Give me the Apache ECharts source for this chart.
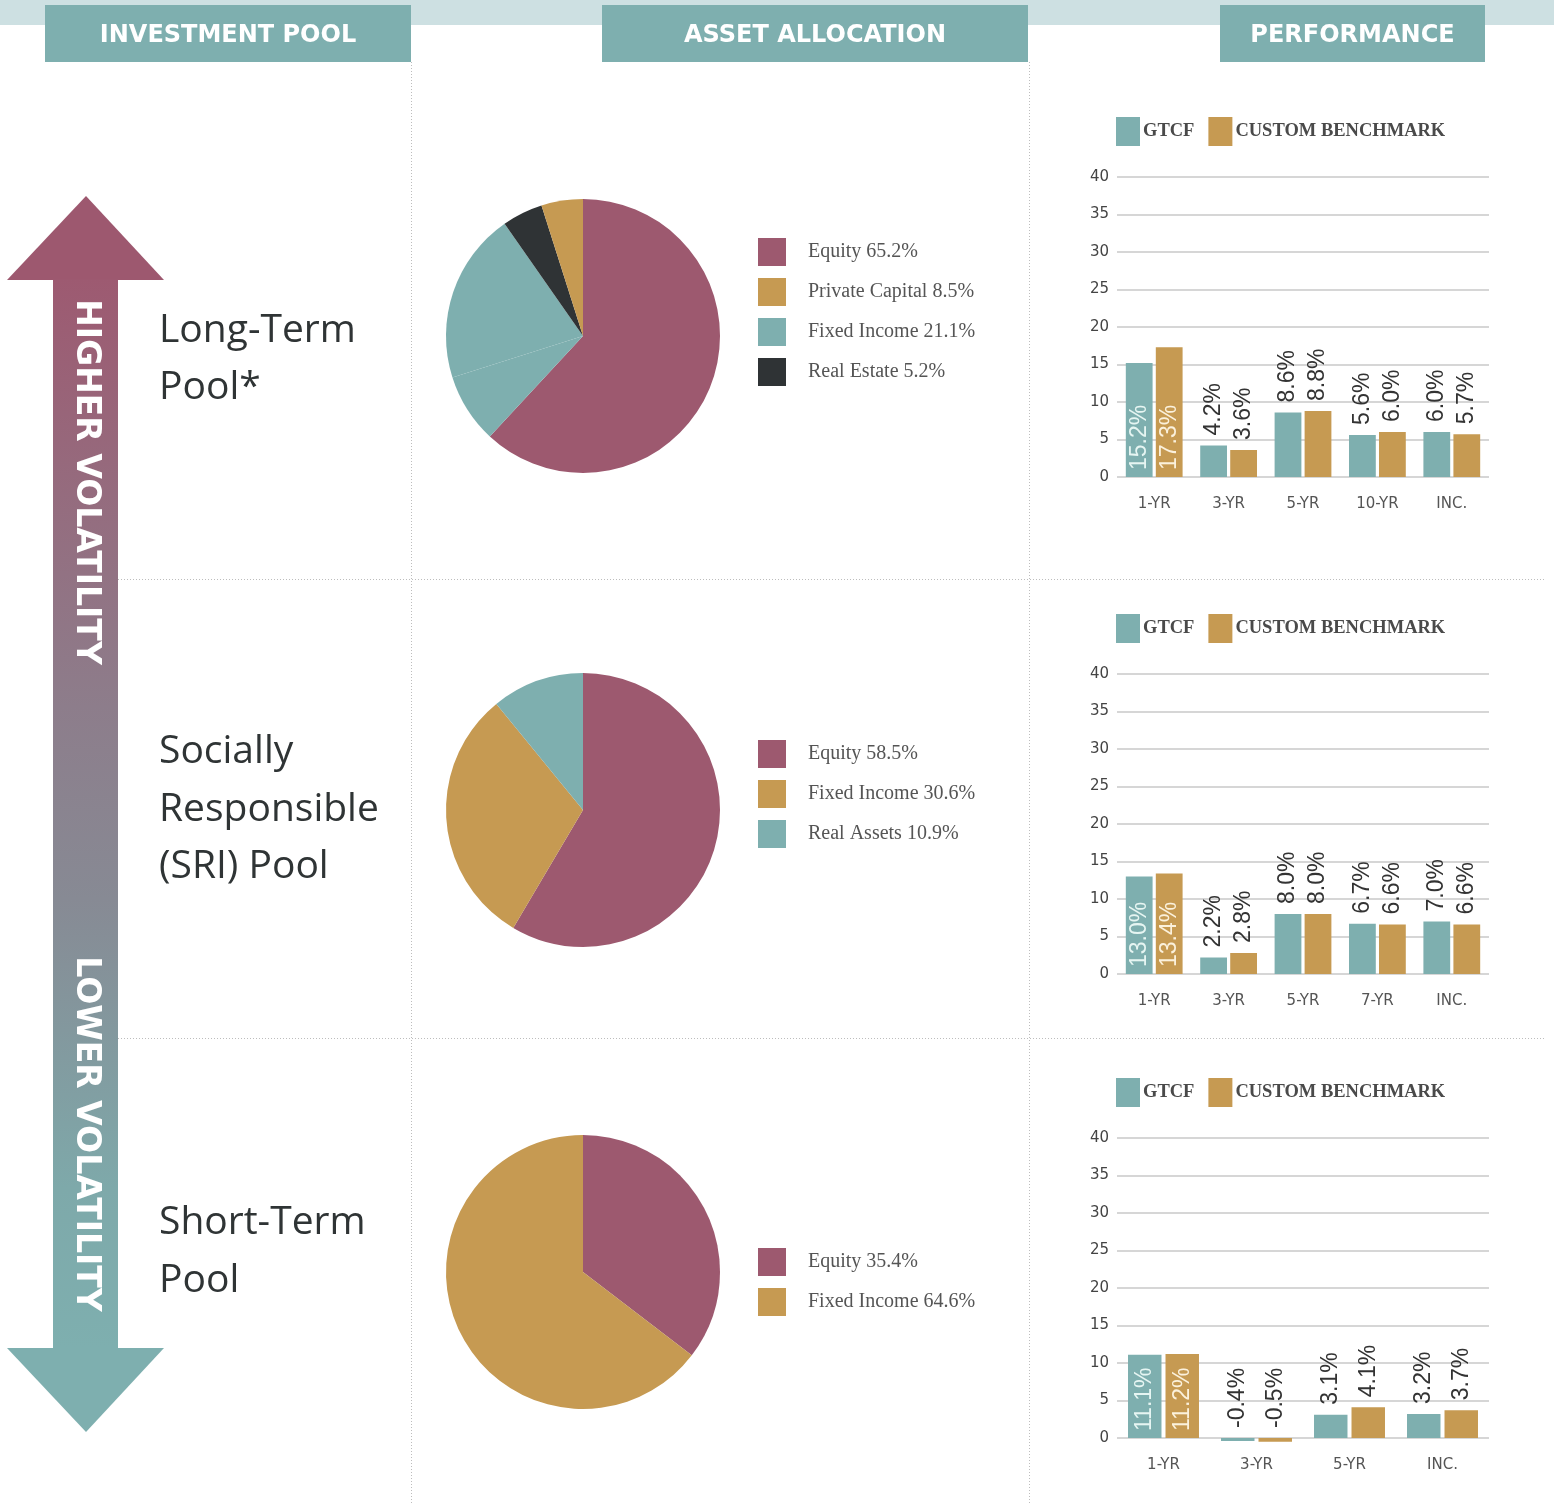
<!DOCTYPE html>
<html><head><meta charset="utf-8">
<script src="https://cdn.jsdelivr.net/npm/echarts@6/dist/echarts.min.js"></script>
<style>html,body{margin:0;padding:0;background:#fff}#c{width:1554px;height:1503px}</style>
</head><body><div id="c"></div>
<script>
// ---------- text ----------
const headers = ['INVESTMENT POOL', 'ASSET ALLOCATION', 'PERFORMANCE'];
const poolNames = [['Long-Term', 'Pool*'], ['Socially', 'Responsible', '(SRI) Pool'], ['Short-Term', 'Pool']];
const volLabels = ['HIGHER VOLATILITY', 'LOWER VOLATILITY'];
const barSeriesNames = ['GTCF', 'CUSTOM BENCHMARK'];

// ---------- pie data ----------
// Long-Term pool: legend as printed, slices as drawn
const pie1LegendNames = ['Equity', 'Private Capital', 'Fixed Income', 'Real Estate'];
const pie1LegendPct = [65.2, 8.5, 21.1, 5.2];
const pie1SliceNames = ['Equity', 'Fixed Income (a)', 'Fixed Income', 'Real Estate', 'Private Capital'];
const pie1SliceValues = [61.9, 8.2, 20.2, 4.8, 4.9];
// SRI pool
const pie2Names = ['Equity', 'Fixed Income', 'Real Assets'];
const pie2Values = [58.5, 30.6, 10.9];
// Short-Term pool
const pie3Names = ['Equity', 'Fixed Income'];
const pie3Values = [35.4, 64.6];

// ---------- bar data ----------
const bar1Cats = ['1-YR', '3-YR', '5-YR', '10-YR', 'INC.'];
const bar1Gtcf = [15.2, 4.2, 8.6, 5.6, 6.0];
const bar1Bench = [17.3, 3.6, 8.8, 6.0, 5.7];
const bar2Cats = ['1-YR', '3-YR', '5-YR', '7-YR', 'INC.'];
const bar2Gtcf = [13.0, 2.2, 8.0, 6.7, 7.0];
const bar2Bench = [13.4, 2.8, 8.0, 6.6, 6.6];
const bar3Cats = ['1-YR', '3-YR', '5-YR', 'INC.'];
const bar3Gtcf = [11.1, -0.4, 3.1, 3.2];
const bar3Bench = [11.2, -0.5, 4.1, 3.7];

// ---------- styles ----------
const MAUVE = '#9d596f', GOLD = '#c69a52', TEAL = '#7eafaf', DARK = '#2f3335';
const colorOf = { 'Equity': MAUVE, 'Private Capital': GOLD, 'Fixed Income': TEAL, 'Fixed Income (a)': TEAL, 'Real Estate': DARK, 'Real Assets': TEAL };
const pie1Colors = pie1SliceNames.map(n => colorOf[n]);
const pie1LegendColors = pie1LegendNames.map(n => colorOf[n]);
const pie2Colors = [MAUVE, GOLD, TEAL];
const pie3Colors = [MAUVE, GOLD];

const pieCenters = [[583, 336], [583, 810], [583, 1272]];
const pieLegendTops = [238, 740, 1248];
const barGridTops = [177, 674, 1138];
const barLegendTops = [117, 614, 1078];

const chart = echarts.init(document.getElementById('c'), null, { renderer: 'canvas' });

function pieSeries(names, values, colors, center) {
  return {
    type: 'pie', center: center, radius: 137, startAngle: 90, clockwise: true,
    silent: true, label: { show: false }, labelLine: { show: false },
    itemStyle: { borderWidth: 0 },
    emphasis: { disabled: true },
    data: names.map((n, i) => ({ name: n, value: values[i], itemStyle: { color: colors[i] } }))
  };
}
function pieLegend(names, pcts, colors, top) {
  const lookup = {};
  names.forEach((n, i) => lookup[n] = pcts[i].toFixed(1) + '%');
  return {
    orient: 'vertical', left: 758, top: top, padding: 0, itemWidth: 28, itemHeight: 28, itemGap: 12,
    icon: 'rect', selectedMode: false,
    data: names.map((n, i) => ({ name: n, itemStyle: { color: colors[i] } })),
    formatter: name => name + ' ' + lookup[name],
    textStyle: { fontFamily: 'Liberation Serif', fontSize: 20, color: '#555', padding: [3, 0, 0, 17] }
  };
}
const legends = [
  pieLegend(pie1LegendNames, pie1LegendPct, pie1LegendColors, pieLegendTops[0]),
  pieLegend(pie2Names, pie2Values, pie2Colors, pieLegendTops[1]),
  pieLegend(pie3Names, pie3Values, pie3Colors, pieLegendTops[2])
];
barLegendTops.forEach(t => legends.push({
  left: 1116, top: t, padding: 0, itemWidth: 24, itemHeight: 29, itemGap: 14, icon: 'rect', selectedMode: false,
  data: [{ name: barSeriesNames[0], itemStyle: { color: TEAL } }, { name: barSeriesNames[1], itemStyle: { color: GOLD } }],
  textStyle: { fontFamily: 'Liberation Serif', fontWeight: 'bold', fontSize: 18.5, color: '#4a4a4a', padding: [3, 0, 0, -2] }
}));

const grids = barGridTops.map(t => ({ left: 1117, top: t, width: 372, height: 300, outerBoundsMode: 'none', containLabel: false }));
const barCats = [bar1Cats, bar2Cats, bar3Cats];
const barVals = [[bar1Gtcf, bar1Bench], [bar2Gtcf, bar2Bench], [bar3Gtcf, bar3Bench]];
const xAxes = barCats.map((cats, i) => ({
  type: 'category', gridIndex: i, data: cats,
  axisLine: { show: false }, axisTick: { show: false },
  axisLabel: { color: '#555', fontSize: 15, margin: 20, fontFamily: 'DejaVu Sans' }
}));
const yAxes = barCats.map((c, i) => ({
  type: 'value', gridIndex: i, min: 0, max: 40, interval: 5,
  axisLine: { show: false }, axisTick: { show: false },
  splitLine: { show: true, lineStyle: { color: '#c8c8c8', width: 1.5 } },
  axisLabel: { color: '#444', fontSize: 15, margin: 8, fontFamily: 'DejaVu Sans' }
}));
const lightLabel = ['#e6f5f2', '#fbf1dc'];
const barColors = [TEAL, GOLD];
const barSeries = [];
barVals.forEach((pair, gi) => {
  pair.forEach((vals, si) => {
    barSeries.push({
      type: 'bar', name: barSeriesNames[si], xAxisIndex: gi, yAxisIndex: gi,
      barWidth: '36%', barGap: '12%', clip: false, silent: true,
      itemStyle: { color: barColors[si] },
      label: {
        show: true, position: 'top', rotate: 90, align: 'left', verticalAlign: 'middle', distance: 10,
        fontSize: 23, fontFamily: 'Liberation Sans', color: '#333',
        formatter: p => p.value.toFixed(1) + '%'
      },
      data: vals.map((v, k) => k === 0 ? { value: v, label: { position: 'insideBottom', distance: 7, color: lightLabel[si] } } : v)
    });
  });
});

// ---------- decorative graphics ----------
const G = [];
G.push({ type: 'rect', shape: { x: 0, y: 0, width: 1554, height: 25 }, style: { fill: '#cde0e2' }, z: 1 });
const hdrBoxes = [[45, 366], [602, 426], [1220, 265]];
hdrBoxes.forEach((b, i) => {
  G.push({ type: 'rect', shape: { x: b[0], y: 5, width: b[1], height: 57 }, style: { fill: TEAL }, z: 2 });
  G.push({ type: 'text', x: b[0] + b[1] / 2, y: 36, style: { text: headers[i], fill: '#fff', font: 'bold 24px "DejaVu Sans"', align: 'center', verticalAlign: 'middle' }, z: 3 });
});
const dotted = { stroke: '#bdbdbd', lineWidth: 1, lineDash: [1, 2] };
[[411.5, 62, 411.5, 1503], [1029.5, 62, 1029.5, 1503], [118, 579.5, 1545, 579.5], [118, 1038.5, 1545, 1038.5]].forEach(l => {
  G.push({ type: 'line', shape: { x1: l[0], y1: l[1], x2: l[2], y2: l[3] }, style: dotted, z: 1 });
});
// arrow
G.push({ type: 'polygon', shape: { points: [[86, 196], [164, 280], [7, 280]] }, style: { fill: '#9d586f' }, z: 2 });
G.push({ type: 'rect', shape: { x: 53, y: 279.5, width: 65, height: 1069 }, z: 2,
  style: { fill: { type: 'linear', x: 0, y: 0, x2: 0, y2: 1, colorStops: [
    { offset: 0, color: '#9d5a71' }, { offset: 0.4, color: '#8d7d8b' }, { offset: 0.58, color: '#878a94' },
    { offset: 0.85, color: '#7ea9aa' }, { offset: 1, color: '#7eafaf' }] } } });
G.push({ type: 'polygon', shape: { points: [[7, 1348], [164, 1348], [86, 1432]] }, style: { fill: '#7eafaf' }, z: 2 });
[[volLabels[0], 482], [volLabels[1], 1134]].forEach(t => {
  G.push({ type: 'text', x: 86, y: t[1], rotation: -Math.PI / 2,
    style: { text: t[0], fill: '#fff', font: 'bold 33px "DejaVu Sans"', align: 'center', verticalAlign: 'middle' }, z: 3 });
});
// pool names
const poolLineY = [[331, 388], [752, 810, 867], [1223, 1281]];
poolNames.forEach((lines, i) => lines.forEach((s, j) => {
  G.push({ type: 'text', x: 159, y: poolLineY[i][j],
    style: { text: s, fill: '#2f3435', font: '39px "Open Sans"', align: 'left', verticalAlign: 'middle' }, z: 3 });
}));

chart.setOption({
  animation: false,
  backgroundColor: '#fff',
  legend: legends,
  grid: grids,
  xAxis: xAxes,
  yAxis: yAxes,
  series: [
    pieSeries(pie1SliceNames, pie1SliceValues, pie1Colors, pieCenters[0]),
    pieSeries(pie2Names, pie2Values, pie2Colors, pieCenters[1]),
    pieSeries(pie3Names, pie3Values, pie3Colors, pieCenters[2])
  ].concat(barSeries),
  graphic: G
});
</script></body></html>
